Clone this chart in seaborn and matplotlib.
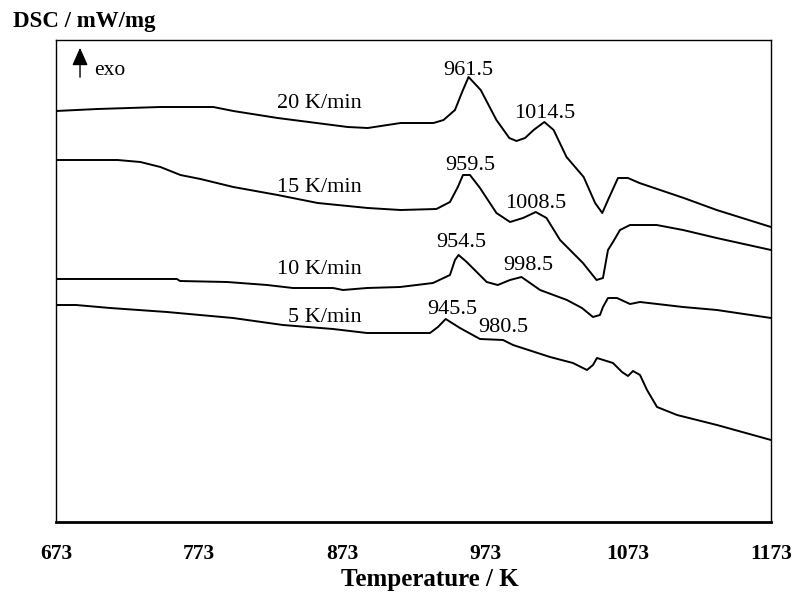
import matplotlib
matplotlib.use("Agg")
import matplotlib.pyplot as plt
import seaborn as sns
import pandas as pd

# ---- data ----
T20 = [673, 702, 746, 783, 797, 828, 877, 891, 914, 937, 944, 952, 957, 961.5, 970, 981, 990, 995,
       1001, 1007, 1014.5, 1021, 1030, 1042, 1050, 1055, 1059, 1066, 1073, 1081, 1112, 1135, 1173]
S20 = [4.11, 4.13, 4.15, 4.15, 4.11, 4.04, 3.95, 3.94, 3.99, 3.99, 4.02, 4.12, 4.30, 4.45, 4.32, 4.02,
       3.84, 3.81, 3.84, 3.92, 4.00, 3.92, 3.65, 3.45, 3.19, 3.09, 3.22, 3.44, 3.44, 3.39, 3.24, 3.12, 2.95]

T15 = [673, 716, 732, 746, 760, 774, 797, 828, 856, 891, 914, 939, 948.5, 954, 957.6, 962.5, 969.5,
       981, 990.5, 999.6, 1008.5, 1016, 1025.5, 1041.5, 1051, 1055.5, 1059, 1062.5, 1067.4, 1074.4,
       1093, 1111.5, 1135, 1173]
S15 = [3.62, 3.62, 3.60, 3.55, 3.47, 3.43, 3.35, 3.27, 3.19, 3.14, 3.12, 3.13, 3.20, 3.35, 3.47, 3.47,
       3.34, 3.09, 3.00, 3.04, 3.10, 3.04, 2.82, 2.59, 2.42, 2.44, 2.72, 2.80, 2.92, 2.97, 2.97, 2.92,
       2.84, 2.72]

T10 = [673, 757.6, 759.7, 792.6, 820.6, 838.7, 866.7, 873.7, 890.5, 913.6, 936.6, 948.5, 952, 954.5,
       960.2, 974.2, 981.9, 990.5, 998.5, 1011.5, 1030.3, 1040.8, 1048.5, 1053.4, 1055.5, 1059, 1065.3,
       1074.4, 1081.4, 1111.5, 1135.2, 1173]
S10 = [2.43, 2.43, 2.41, 2.40, 2.37, 2.34, 2.34, 2.32, 2.34, 2.35, 2.39, 2.47, 2.62, 2.67, 2.60, 2.40,
       2.37, 2.42, 2.45, 2.32, 2.22, 2.14, 2.05, 2.07, 2.15, 2.24, 2.24, 2.18, 2.20, 2.15, 2.12, 2.04]

T5 = [673, 687, 710.8, 750.6, 796.8, 831.7, 866.7, 890.5, 913.6, 934.5, 940.1, 945.5, 955.5, 969.5,
      985.6, 992.6, 1018.5, 1034.5, 1044.3, 1048.5, 1051.3, 1062.5, 1068.8, 1073, 1076.5, 1081.4,
      1086.3, 1093.3, 1107.3, 1135.2, 1173]
S5 = [2.17, 2.17, 2.14, 2.10, 2.04, 1.97, 1.93, 1.89, 1.89, 1.89, 1.95, 2.03, 1.94, 1.83, 1.82, 1.77,
      1.65, 1.59, 1.52, 1.57, 1.64, 1.59, 1.50, 1.46, 1.51, 1.47, 1.32, 1.15, 1.07, 0.97, 0.82]

rate_labels = ["20 K/min", "15 K/min", "10 K/min", "5 K/min"]
rate_label_pos = [(857.5, 4.19), (857.5, 3.35), (857.5, 2.53), (861, 2.04)]

peak_labels = ["961.5", "1014.5", "959.5", "1008.5", "954.5", "998.5", "945.5", "980.5"]
peak_label_pos = [(961.5, 4.52), (1014.5, 4.09), (962.5, 3.57), (1008.5, 3.19),
                  (956.5, 2.80), (1003, 2.57), (950, 2.12), (985.5, 1.95)]

xticks = [673, 773, 873, 973, 1073, 1173]

# ---- plot ----
sns.set_theme(style="white")
plt.rcParams["font.family"] = ["Liberation Serif", "DejaVu Serif"]

fig = plt.figure(figsize=(7.92, 5.93), dpi=100)
ax = fig.add_axes([56 / 792, 1 - 522 / 593, 715 / 792, 482 / 593])

series = [(T20, S20), (T15, S15), (T10, S10), (T5, S5)]
for name, (t, s) in zip(rate_labels, series):
    df = pd.DataFrame({"T": t, "DSC": s})
    sns.lineplot(data=df, x="T", y="DSC", color="black", linewidth=1.4, ax=ax,
                 estimator=None, sort=False)

ax.set_xlim(673, 1173)
ax.set_ylim(0, 4.82)
ax.set_xticks(xticks)
ax.set_xticklabels([str(v) for v in xticks], fontsize=15.5, fontweight="bold", color="black")
ax.set_yticks([])
ax.set_xlabel("Temperature / K", fontsize=18, fontweight="bold", color="black", va="center")
ax.xaxis.set_label_coords(0.523, -0.120)
ax.set_ylabel("")
ax.tick_params(axis="x", direction="in", length=8, width=1, pad=16, colors="black")

for sp in ax.spines.values():
    sp.set_color("black")
    sp.set_linewidth(1.0)
    sp.set_visible(True)
ax.spines["bottom"].set_linewidth(2.0)

for lab, (x, y) in zip(rate_labels, rate_label_pos):
    ax.text(x, y, lab, fontsize=16, ha="center", va="center", color="black")
for lab, (x, y) in zip(peak_labels, peak_label_pos):
    ax.text(x, y, lab, fontsize=16, ha="center", va="center", color="black")

# exo arrow
ax.annotate("", xy=(689.8, 4.77), xytext=(689.8, 4.42),
            arrowprops=dict(arrowstyle="-|>,head_width=0.4,head_length=0.9",
                            color="black", lw=1.0))
ax.text(700, 4.52, "exo", fontsize=15.5, ha="left", va="center", color="black")

fig.text(13 / 792, 1 - 22 / 593, "DSC / mW/mg", fontsize=16.5, fontweight="bold",
         ha="left", va="center", color="black")

fig.savefig("out.png", dpi=100)
